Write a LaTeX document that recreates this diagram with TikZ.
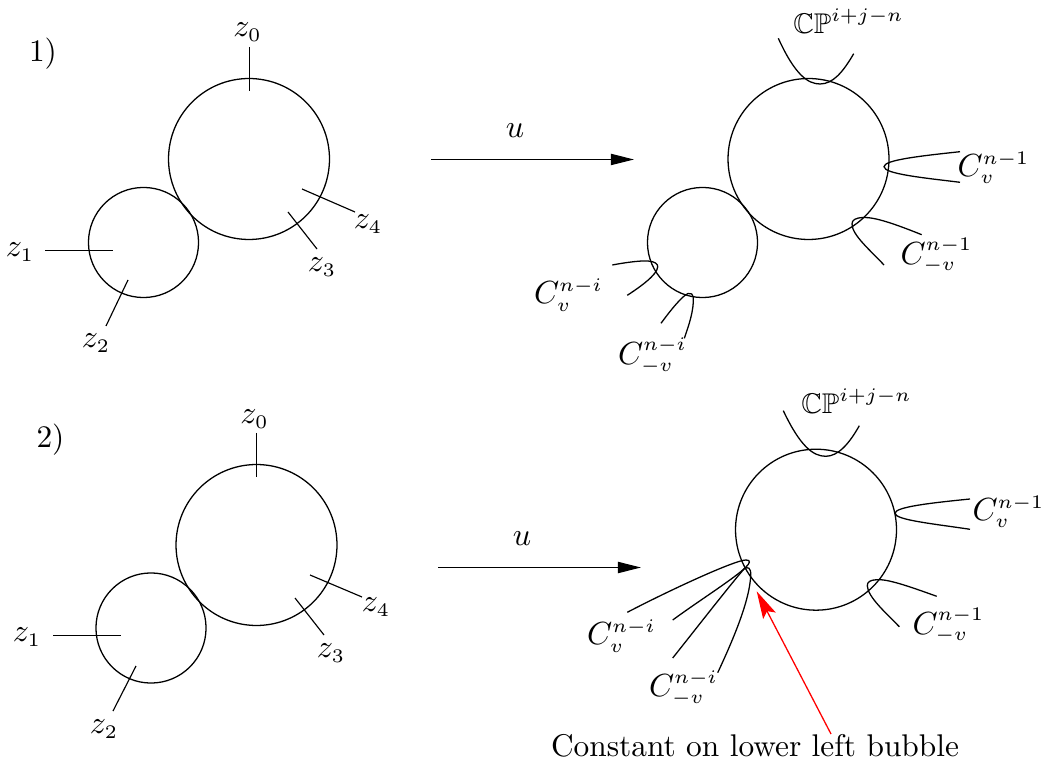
\documentclass[tikz,border=0pt]{standalone}
\usepackage{amssymb}
\DeclareMathSizes{10}{10}{5.8}{5}
\usetikzlibrary{arrows.meta}
\newcommand{\bbcp}{\scalebox{0.89}{$\mathbb{CP}$}}
\tikzset{
  bubble/.style={draw,circle,inner sep=0pt,line width=0.4pt},
  big/.style={bubble,minimum size=50.3pt},
  small/.style={bubble,minimum size=34.4pt},
  lbl/.style={inner sep=0pt,outer sep=0pt},
  mark line/.style={line width=0.36pt},
  curve/.style={line width=0.4pt},
  mapsto arrow/.style={line width=0.36pt,-{Triangle[length=7.2pt,width=3.5pt]}},
  red arrow/.style={red,line width=0.4pt,-{Stealth[length=8.6pt,width=4.4pt,inset=1.6pt]}}
}
\begin{document}
\begin{tikzpicture}[x=0.3125pt,y=-0.3125pt]
\useasboundingbox (0,0) rectangle (1045,768);
% --- top left
\node[big] (A) at (249,159) {};
\node[small] (B) at (143.5,242.5) {};
\coordinate (a0s) at (249.5,47); \coordinate (a0e) at (249.5,91);
\coordinate (a1s) at (45,250.5); \coordinate (a1e) at (113,250.5);
\coordinate (a2s) at (128,280); \coordinate (a2e) at (106,326);
\coordinate (a3s) at (288,212); \coordinate (a3e) at (317,249);
\coordinate (a4s) at (302,189); \coordinate (a4e) at (355,212);
\draw[mark line] (a0s)--(a0e); \draw[mark line] (a1s)--(a1e);
\draw[mark line] (a2s)--(a2e); \draw[mark line] (a3s)--(a3e);
\draw[mark line] (a4s)--(a4e);
\node[lbl,scale=0.98] (t1) at (43,54) {1)};
\node[lbl] (az0) at (247.5,32.5) {$z_0$};
\node[lbl] (az1) at (20,252.5) {$z_1$};
\node[lbl] (az2) at (96,343.5) {$z_2$};
\node[lbl] (az3) at (322,267) {$z_3$};
\node[lbl] (az4) at (368,224) {$z_4$};
% --- top arrow
\coordinate (u1s) at (431,159.5); \coordinate (u1e) at (634,159.5);
\draw[mapsto arrow] (u1s)--(u1e);
\node[lbl] (u1) at (515,131) {$u$};
% --- top right
\node[big] (C) at (808.5,159) {};
\node[small] (D) at (702.5,242.5) {};
\draw[curve] (778.3,38.3) .. controls (795,75) and (808,84) .. (820,84) .. controls (833,84) and (843,72) .. (853.7,53.7);
\draw[curve] (960,151.7) .. controls (920,156) and (884,160) .. (884,166.7) .. controls (884,174) and (925,178) .. (960,182.3);
\draw[curve] (921.7,234.7) .. controls (895,224) and (875,217) .. (863,217.5) .. controls (855,218) and (852,220) .. (852,224) .. controls (852,235) and (870,250) .. (884,265);
\draw[curve] (612.3,265) .. controls (628,262) and (642,260.5) .. (648,261) .. controls (655,261.5) and (658,264) .. (657.7,267) .. controls (657,275) and (640,287) .. (627.3,295.3);
\draw[curve] (661,323.3) .. controls (670,311) and (682,296) .. (688,293.5) .. controls (691,293) and (693,294) .. (693.3,297) .. controls (694,310) and (689,325) .. (684.3,338.3);
\node[lbl] (cp1) at (848.5,21) {\bbcp$^{i+j-n}$};
\node[lbl] (c1) at (993.5,168) {$C_v^{n-1}$};
\node[lbl] (c2) at (936.5,256) {$C_{-v}^{n-1}$};
\node[lbl] (c3) at (568.5,295) {$C_v^{n-i}$};
\node[lbl] (c4) at (652.5,356) {$C_{-v}^{n-i}$};
% --- lower left
\node[big] (E) at (256.5,545) {};
\node[small] (F) at (151,628) {};
\coordinate (e0s) at (256.5,433); \coordinate (e0e) at (256.5,477);
\coordinate (e1s) at (53,635.5); \coordinate (e1e) at (121,635.5);
\coordinate (e2s) at (136,666); \coordinate (e2e) at (113,711);
\coordinate (e3s) at (295,598); \coordinate (e3e) at (324,635);
\coordinate (e4s) at (310,575); \coordinate (e4e) at (362,597);
\draw[mark line] (e0s)--(e0e); \draw[mark line] (e1s)--(e1e);
\draw[mark line] (e2s)--(e2e); \draw[mark line] (e3s)--(e3e);
\draw[mark line] (e4s)--(e4e);
\node[lbl,scale=0.98] (t2) at (50.5,440) {2)};
\node[lbl] (ez0) at (254.5,419.5) {$z_0$};
\node[lbl] (ez1) at (27,637.5) {$z_1$};
\node[lbl] (ez2) at (104,729.5) {$z_2$};
\node[lbl] (ez3) at (331,653) {$z_3$};
\node[lbl] (ez4) at (376,607) {$z_4$};
% --- lower arrow
\coordinate (u2s) at (438,567.5); \coordinate (u2e) at (641,567.5);
\draw[mapsto arrow] (u2s)--(u2e);
\node[lbl] (u2) at (522,539) {$u$};
% --- lower right
\node[big] (G) at (816,529.7) {};
\draw[curve] (783.3,410.7) .. controls (800,446) and (813,456.3) .. (825.7,456.3) .. controls (838,456.3) and (849,444) .. (859.3,425.7);
\draw[curve] (970,499) .. controls (930,503) and (895,507) .. (895,513.3) .. controls (895,520) and (935,524) .. (970,529.3);
\draw[curve] (936.7,596.3) .. controls (908,586) and (888,579) .. (876.7,579.7) .. controls (870,580) and (867,582) .. (867.3,586) .. controls (868,597) and (885,612) .. (899.3,626.7);
\draw[curve] (627.3,612.3) .. controls (670,590) and (735,560) .. (746,560) .. controls (751,560) and (750,563) .. (746,567) .. controls (735,578) and (700,600) .. (672.7,620);
\draw[curve] (672.7,658) .. controls (695,630) and (730,585) .. (744,569) .. controls (748,566) and (751,568) .. (750.7,575) .. controls (750,600) and (733,640) .. (717.7,672.7);
\node[lbl] (cp2) at (856.5,401) {\bbcp$^{i+j-n}$};
\node[lbl] (g1) at (1008.5,512) {$C_v^{n-1}$};
\node[lbl] (g2) at (948.5,626) {$C_{-v}^{n-1}$};
\node[lbl] (g3) at (621.5,636) {$C_v^{n-i}$};
\node[lbl] (g4) at (683.5,688) {$C_{-v}^{n-i}$};
\node[lbl,scale=0.98] (note) at (755,746) {Constant on lower left bubble};
\coordinate (rs) at (831,734); \coordinate (re) at (756.7,591.3);
\draw[red arrow] (rs)--(re);
\end{tikzpicture}
\end{document}
